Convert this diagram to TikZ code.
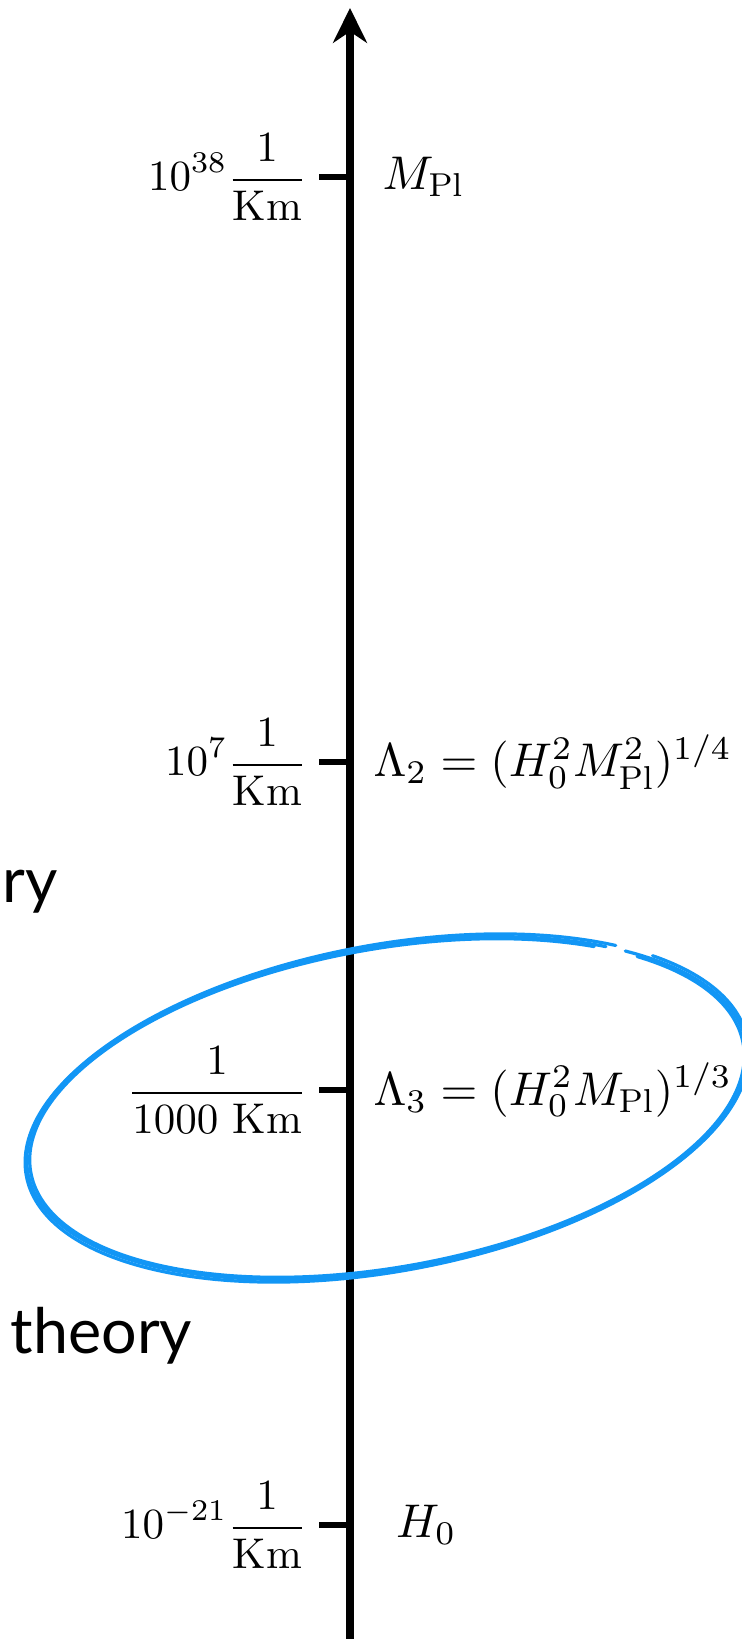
\RequirePackage{fix-cm}
\documentclass[tikz,border=0pt]{standalone}
\usepackage{amsfonts,amssymb,amsmath}
\usepackage{xcolor}
\usepackage{fontspec}
\newfontfamily\sidefont{Lato}
\usepackage{tikz}
\usetikzlibrary{arrows.meta}
\definecolor{loopblue}{RGB}{18,150,245}
\tikzset{scaleaxis/.style={line width=1.75pt},
scaletick/.style={line width=1.55pt},
leftval/.style={anchor=east,inner sep=0pt},
rightval/.style={anchor=west,inner sep=0pt,font=\fontsize{11.0}{13}\selectfont},
sidetext/.style={anchor=base west,inner sep=0pt,font=\sidefont\fontsize{14.6}{17}\selectfont},
loopline/.style={loopblue,line width=0.75pt,line cap=round}}

\begin{document}
\begin{tikzpicture}[x=0.2326pt,y=0.2326pt]
\useasboundingbox(0,0)rectangle(741,1639);
\coordinate(bot)at(350,0);
\coordinate(top)at(350,1631);
\coordinate(mpl)at(350,1462);
\coordinate(lamtwo)at(350,877);
\coordinate(lamthree)at(350,549);
\coordinate(hzero)at(350,114);
\draw[scaleaxis,-{Stealth[length=8.1pt,width=7.9pt]}](bot)--(top);
\foreach \c in {mpl,lamtwo,lamthree,hzero}
\draw[scaletick]([xshift=-7.2pt]\c)--(\c);
\node[leftval](mplval)at([xshift=-9.8pt]mpl){$\displaystyle 10^{38}\frac{1}{\mathrm{Km}}$};
\node[leftval](lamtwoval)at([xshift=-9.8pt]lamtwo){$\displaystyle 10^{7}\frac{1}{\mathrm{Km}}$};
\node[leftval](lamthreeval)at([xshift=-9.8pt]lamthree){$\displaystyle \frac{1}{1000\ \mathrm{Km}}$};
\node[leftval](hzeroval)at([xshift=-9.8pt]hzero){$\displaystyle 10^{-21}\frac{1}{\mathrm{Km}}$};
\node[rightval](mplname)at([xshift=7.4pt]mpl){$M_{\mathrm{Pl}}$};
\node[rightval](lamtwoname)at([xshift=5.3pt]lamtwo){$\Lambda_2=(H_0^2M_{\mathrm{Pl}}^2)^{1/4}$};
\node[rightval](lamthreename)at([xshift=5.3pt]lamthree){$\Lambda_3=(H_0^2M_{\mathrm{Pl}})^{1/3}$};
\node[rightval](hzeroname)at([xshift=10.5pt]hzero){$H_0$};
\node[sidetext](rytext)at(2,736){ry};
\node[sidetext](theorytext)at(10,286){theory};
\begin{scope}[shift={(387,531)},rotate=10.3]
\draw[loopline](48:365 and 161)arc[start angle=48,end angle=404,x radius=365,y radius=161];
\draw[loopline](50:362 and 159)arc[start angle=50,end angle=401,x radius=362,y radius=159];
\draw[loopline,rotate=0.4](46:367 and 163)arc[start angle=46,end angle=398,x radius=367,y radius=163];
\end{scope}
\end{tikzpicture}
\end{document}
